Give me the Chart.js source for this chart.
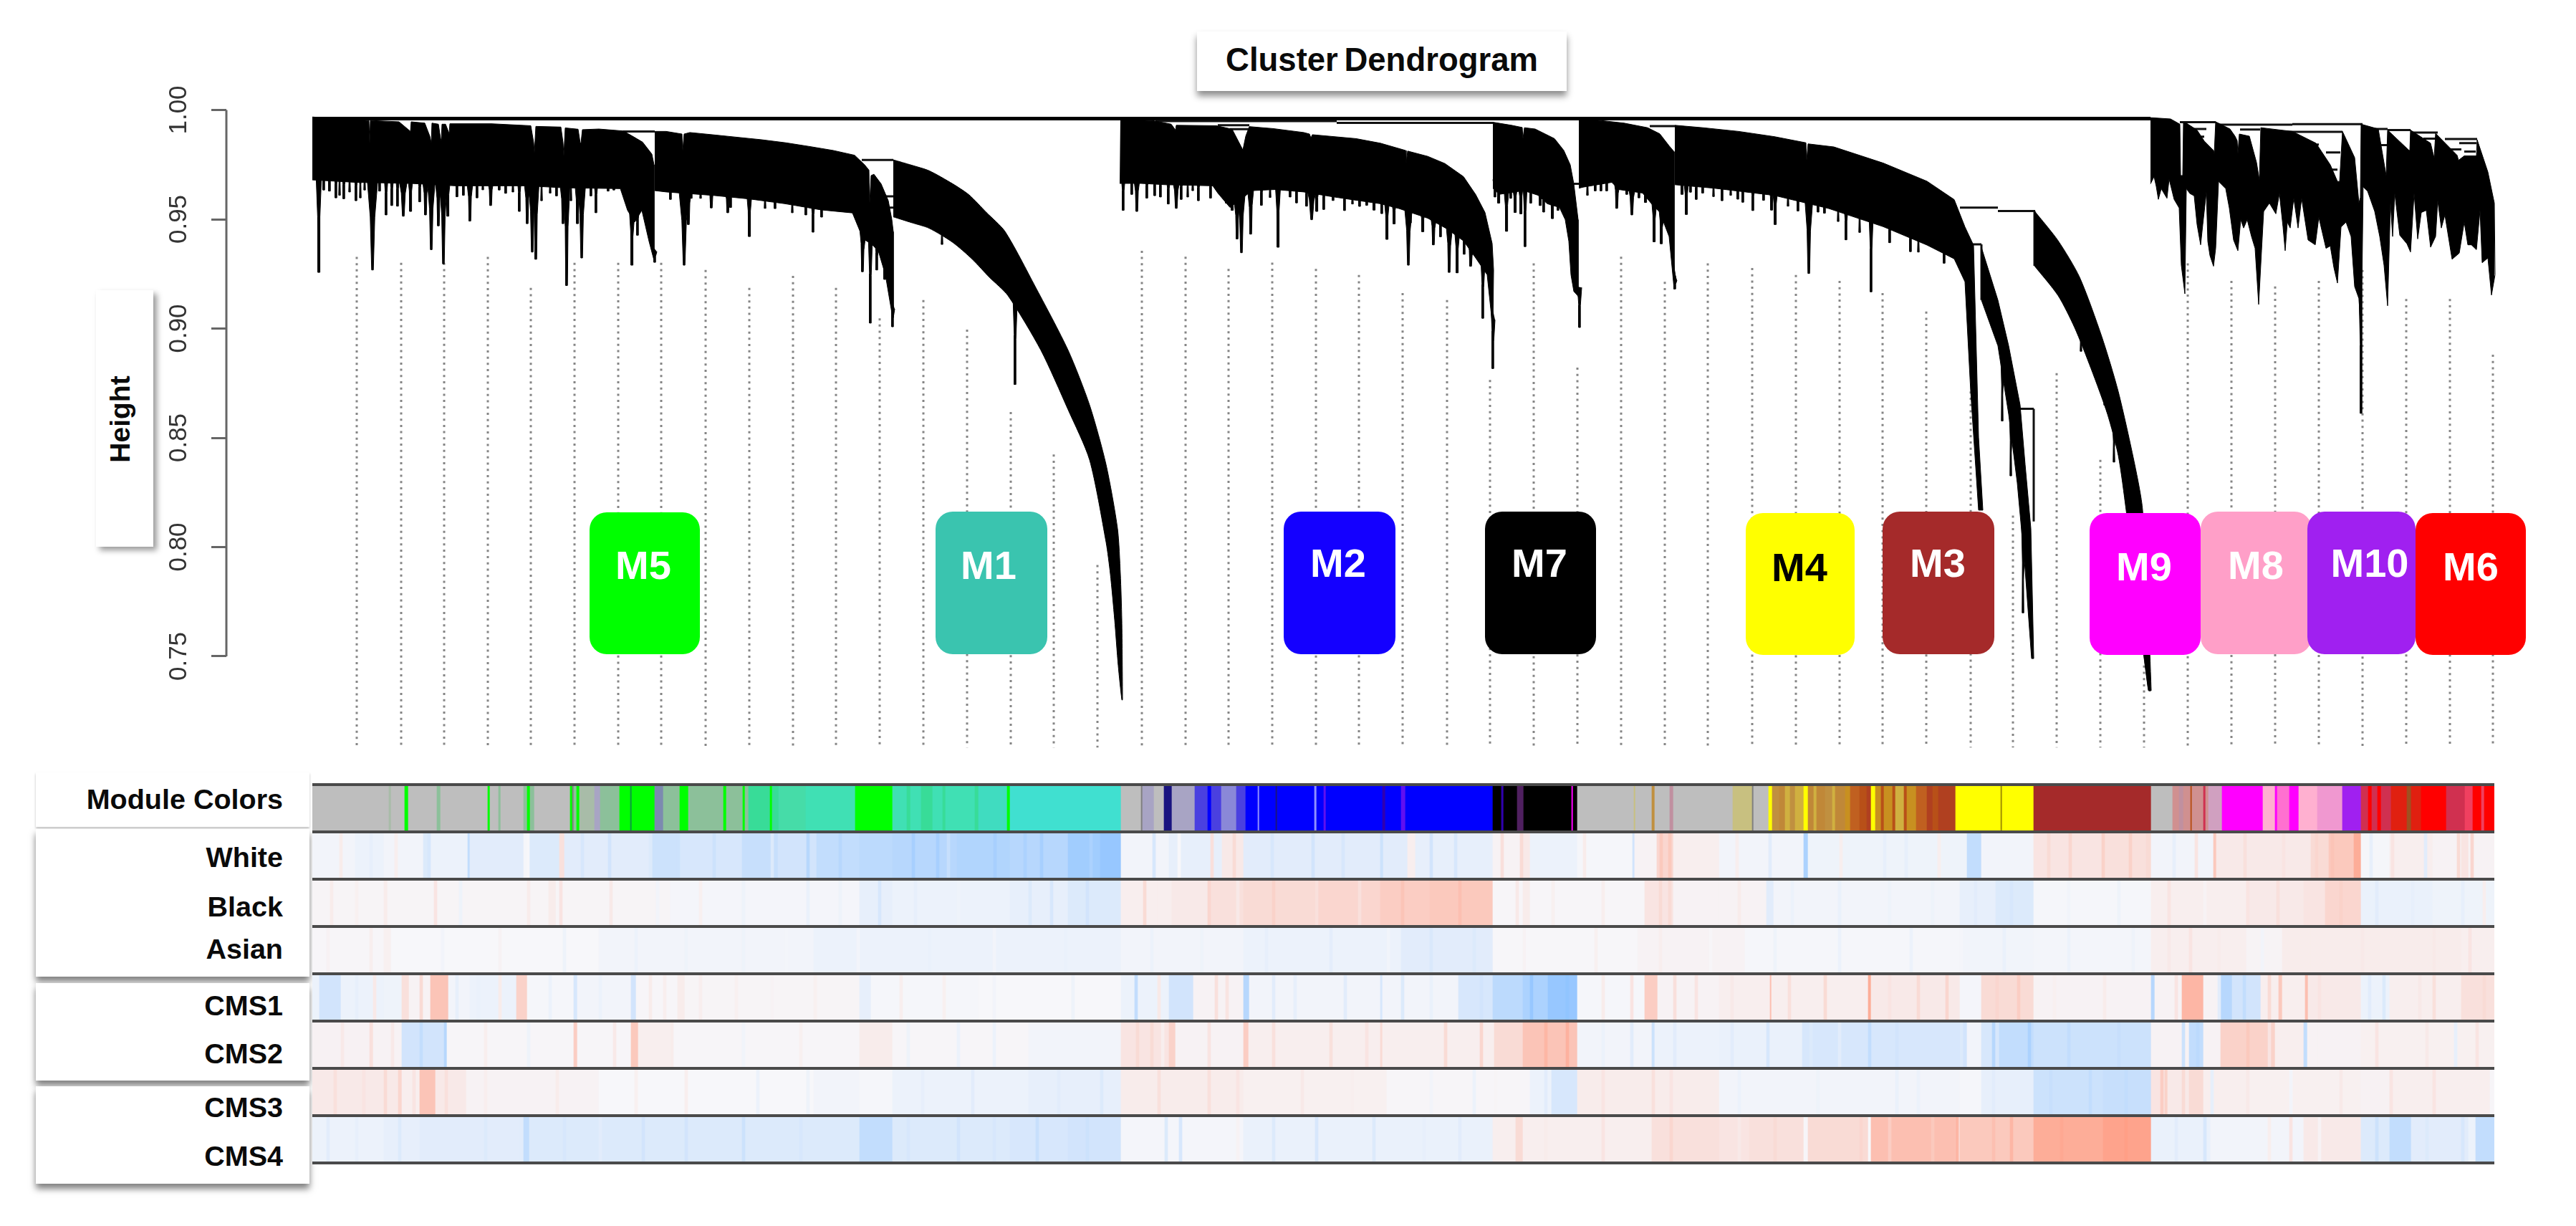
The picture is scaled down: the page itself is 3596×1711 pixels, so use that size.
<!DOCTYPE html>
<html>
<head>
<meta charset="utf-8">
<title>Cluster Dendrogram</title>
<script src="https://cdn.jsdelivr.net/npm/chart.js@4"></script>
<style>
html, body { margin: 0; background: #fff; }
#page { position: relative; width: 3596px; height: 1711px; overflow: hidden; font-family: "Liberation Sans", Arial, sans-serif; font-weight: bold; color: #0a0a0a; }
canvas { position: absolute; left: 0; top: 0; }
.panel { position: absolute; background: #fff; }
.rowLabel { position: absolute; right: 3201px; font-size: 39.5px; line-height: 44px; white-space: nowrap; }
.moduleBox { position: absolute; border-radius: 24px; }
.moduleBox span { position: absolute; font-size: 56px; line-height: 60px; white-space: nowrap; transform: translate(-50%, -50%); }
</style>
</head>
<body>
<div id="page">
  <div class="panel" style="left:1671px;top:44px;width:516px;height:83px;box-shadow:0 7px 9px rgba(0,0,0,.45)"></div>
  <div style="position:absolute;left:1671px;top:58px;width:516px;text-align:center;font-size:45.5px;line-height:52px;word-spacing:-4px">Cluster Dendrogram</div>
  <div class="panel" style="left:134px;top:405px;width:80px;height:358px;box-shadow:5px 5px 8px rgba(0,0,0,.4)"></div>
  <div style="position:absolute;left:168px;top:585px;font-size:39px;line-height:44px;transform:translate(-50%,-50%) rotate(-90deg)">Height</div>
  <div class="panel" style="left:50px;top:1078px;width:382px;height:76px;box-shadow:0 2px 3px rgba(0,0,0,.25)"></div>
  <div class="panel" style="left:50px;top:1157px;width:382px;height:206px;box-shadow:0 7px 9px rgba(0,0,0,.5)"></div>
  <div class="panel" style="left:50px;top:1372px;width:382px;height:136px;box-shadow:0 7px 9px rgba(0,0,0,.5)"></div>
  <div class="panel" style="left:50px;top:1516px;width:382px;height:136px;box-shadow:0 7px 9px rgba(0,0,0,.5)"></div>
  <div id="rowLabels"></div>
  <canvas id="heatChart" width="3596" height="1711"></canvas>
  <canvas id="dendroChart" width="3596" height="1711"></canvas>
  <div id="moduleBoxes"></div>
</div>
<script>
// x = leaf rank along the dendrogram, y = merge height

const heightTicks = [1, 0.95, 0.9, 0.85, 0.8, 0.75];
const leafCount = 3046;

const rowNames = ['Module Colors', 'White', 'Black', 'Asian', 'CMS1', 'CMS2', 'CMS3', 'CMS4'];

// each branch: upper edge, lower edge, spikes [rank, tip height, half width]
const a1Upper = [[0,.9968],[77,.9952],[79,.9952],[80,.9848],[81,.9952],[121,.9946],[137,.9902],[138,.9946],[157,.9940],[164,.9880],[166,.9850],[167,.9940],[176,.9935],[179,.9870],[180,.9860],[181,.9935],[186,.9935],[191,.9892],[192,.9937],[250,.9937],[305,.9928],[309,.9850],[310,.9805],[312,.9925],[347,.9922],[350,.9850],[351,.9790],[353,.9918],[371,.9912],[374,.9848],[375,.9848],[377,.9910],[400,.9913],[434,.9904],[447,.9880],[461,.9853],[474,.9798],[477,.9749]];
const a1Lower = [[0,.9680],[60,.9669],[137,.9664],[200,.9653],[300,.9653],[350,.9644],[430,.9640],[440,.9541],[450,.9487],[460,.9541],[470,.9399],[477,.9312]];
const a1Spikes = [[9,.9257,4],[16,.9634,3],[24,.9629,3],[33,.9598,3],[38,.9610,2],[44,.9594,3],[52,.9625,2],[61,.9585,3],[67,.9598,2],[73,.9634,2],[84,.9268,8],[94,.9629,3],[103,.9520,3],[111,.9563,3],[119,.9560,3],[127,.9514,7],[137,.9536,4],[150,.9580,3],[158,.9520,5],[166,.9361,6],[176,.9470,5],[183,.9296,6],[189,.9514,4],[202,.9603,3],[211,.9610,3],[220,.9492,5],[230,.9598,3],[238,.9635,2],[249,.9563,5],[261,.9634,3],[270,.9619,3],[280,.9625,2],[289,.9536,3],[300,.9480,5],[307,.9350,6],[312,.9317,5],[320,.9585,2],[332,.9620,2],[341,.9607,3],[350,.9480,5],[355,.9197,5],[361,.9585,2],[370,.9480,4],[376,.9323,6],[389,.9607,3],[396,.9530,3],[413,.9629,3],[421,.9634,3],[446,.9290,4],[454,.9427,3],[478,.9303,3]];

const a2Upper = [[478,.9902],[494,.9902],[516,.9890],[517,.9815],[519,.9890],[527,.9897],[561,.9886],[594,.9875],[627,.9864],[661,.9850],[694,.9833],[727,.9815],[757,.9793],[771,.9749],[777,.9725],[778,.9575],[780,.9700],[784,.9706],[794,.9662],[804,.9585],[809,.9498],[811,.9443]];
const a2Lower = [[478,.9631],[494,.9625],[560,.9609],[610,.9593],[660,.9571],[710,.9543],[754,.9529],[762,.9465],[769,.9410],[780,.9388],[790,.9356],[800,.9246],[809,.9071],[811,.9050]];
const a2Spikes = [[500,.9591,3],[519,.9290,8],[525,.9476,5],[529,.9596,3],[542,.9596,2],[557,.9552,5],[580,.9530,5],[584,.9554,3],[610,.9421,4],[632,.9550,2],[646,.9549,3],[670,.9530,2],[689,.9520,3],[699,.9441,3],[711,.9510,3],[768,.9260,5],[779,.9025,3],[788,.9268,3],[799,.9225,4],[810,.9008,3]];

const m1Upper = [[811,.9772],[836,.9748],[861,.9722],[894,.9662],[917,.9611],[941,.9531],[967,.9444],[1009,.9193],[1055,.8901],[1085,.8650],[1108,.8378],[1124,.8085],[1128,.7877],[1130,.7667],[1131,.7301]];
const m1Lower = [[811,.9511],[836,.9485],[861,.9459],[894,.9394],[921,.9318],[945,.9235],[971,.9151],[1017,.8901],[1055,.8629],[1085,.8399],[1108,.8023],[1114,.7877],[1120,.7667],[1125,.7458],[1130,.7301]];
const m1Spikes = [[879,.9385,2],[981,.8744,3]];

const m2Upper = [[1128,.9957],[1174,.9951],[1199,.9935],[1205,.9908],[1206,.9930],[1262,.9928],[1284,.9912],[1299,.9817],[1303,.9880],[1308,.9924],[1341,.9915],[1384,.9897],[1392,.9890],[1394,.9872],[1396,.9887],[1457,.9869],[1491,.9848],[1526,.9815],[1527,.9755],[1529,.9812],[1557,.9788],[1581,.9755],[1607,.9695],[1624,.9613],[1637,.9531],[1647,.9389],[1649,.9268]];
const m2Lower = [[1127,.9664],[1157,.9664],[1191,.9658],[1257,.9653],[1264,.9620],[1281,.9554],[1312,.9631],[1344,.9636],[1384,.9625],[1424,.9603],[1457,.9587],[1491,.9571],[1517,.9549],[1557,.9505],[1584,.9456],[1607,.9401],[1624,.9323],[1640,.9246],[1647,.9028],[1648,.9000]];
const m2Spikes = [[1132,.9541,3],[1144,.9614,3],[1151,.9536,5],[1165,.9597,3],[1176,.9608,3],[1184,.9602,3],[1195,.9570,3],[1206,.9550,6],[1213,.9591,3],[1222,.9602,2],[1229,.9631,2],[1237,.9585,3],[1254,.9597,3],[1276,.9574,3],[1284,.9541,4],[1291,.9410,5],[1297,.9347,6],[1310,.9432,5],[1325,.9564,3],[1337,.9600,2],[1348,.9372,4],[1365,.9602,3],[1374,.9575,3],[1388,.9560,3],[1395,.9498,8],[1402,.9536,4],[1412,.9545,3],[1425,.9586,3],[1441,.9540,3],[1452,.9570,2],[1462,.9559,3],[1472,.9564,3],[1482,.9542,4],[1493,.9526,3],[1500,.9408,4],[1510,.9479,4],[1530,.9290,6],[1533,.9483,3],[1550,.9443,4],[1565,.9383,5],[1575,.9420,3],[1587,.9257,5],[1598,.9255,4],[1608,.9340,3],[1617,.9285,5],[1634,.9047,3],[1648,.8817,3]];

const m7Upper = [[1648,.9944],[1674,.9930],[1689,.9920],[1690,.9869],[1692,.9919],[1707,.9913],[1734,.9869],[1747,.9815],[1756,.9749],[1761,.9662],[1767,.9498]];
const m7Lower = [[1648,.9642],[1657,.9614],[1691,.9631],[1711,.9610],[1724,.9571],[1741,.9554],[1749,.9498],[1754,.9399],[1757,.9246],[1761,.9170],[1767,.9148]];
const m7Spikes = [[1651,.9602,3],[1656,.9574,4],[1667,.9445,4],[1673,.9596,3],[1679,.9531,4],[1687,.9525,4],[1693,.9375,3],[1701,.9574,3],[1714,.9563,4],[1719,.9533,3],[1731,.9503,4],[1739,.9541,3],[1769,.9005,3]];

const b1Upper = [[1768,.9959],[1801,.9951],[1831,.9940],[1864,.9919],[1881,.9891],[1894,.9836],[1901,.9809]];
const b1Lower = [[1768,.9642],[1774,.9647],[1814,.9669],[1824,.9636],[1857,.9620],[1871,.9565],[1881,.9532],[1894,.9421],[1901,.9181]];
const b1Spikes = [[1780,.9610,2],[1791,.9630,3],[1799,.9630,3],[1807,.9630,3],[1821,.9550,5],[1835,.9614,3],[1842,.9520,6],[1852,.9598,3],[1861,.9577,4],[1873,.9397,4],[1883,.9388,4],[1892,.9465,3],[1899,.9334,5],[1902,.9181,3]];

const b2Upper = [[1902,.9930],[1941,.9919],[1991,.9902],[2041,.9878],[2085,.9850],[2086,.9770],[2088,.9845],[2124,.9831],[2193,.9757],[2254,.9674],[2292,.9590],[2307,.9465],[2319,.9381],[2326,.8503],[2332,.8169]];
const b2Lower = [[1902,.9658],[1957,.9642],[2041,.9609],[2117,.9549],[2193,.9466],[2254,.9382],[2292,.9319],[2307,.9214],[2315,.8712],[2326,.8169]];
const b2Spikes = [[1912,.9614,4],[1918,.9522,4],[1924,.9624,3],[1932,.9591,3],[1941,.9620,3],[1956,.9604,2],[1968,.9585,3],[1980,.9610,2],[1990,.9592,3],[1997,.9578,3],[2011,.9540,3],[2026,.9587,3],[2037,.9542,4],[2042,.9476,4],[2060,.9560,2],[2074,.9538,3],[2089,.9252,6],[2102,.9533,3],[2111,.9528,3],[2130,.9490,2],[2141,.9406,3],[2160,.9440,2],[2176,.9168,3],[2202,.9393,3],[2231,.9352,3],[2242,.9350,2],[2278,.9299,3]];

const cUpper = [[2330,.9371],[2353,.9130],[2368,.8921],[2384,.8650],[2391,.8378],[2399,.8085],[2403,.7490]];
const cLower = [[2330,.9130],[2353,.8921],[2368,.8608],[2380,.8294],[2391,.7897],[2400,.7490]];
const cSpikes = [[2359,.8577,2],[2371,.8326,2],[2388,.7699,2]];

const m9Upper = [[2404,.9538],[2437,.9402],[2467,.9235],[2498,.8963],[2521,.8712],[2544,.8378],[2555,.8169],[2567,.7344]];
const m9Lower = [[2404,.9287],[2437,.9151],[2460,.9005],[2483,.8817],[2506,.8608],[2521,.8420],[2532,.8169],[2563,.7344]];
const m9Spikes = [[2469,.8896,2],[2502,.8650,2],[2515,.8389,2]];

const dUpper = [[2566,.9965],[2594,.9959],[2607,.9935],[2608,.9700],[2611,.9700],[2612,.9940],[2616,.9940],[2631,.9908],[2641,.9858],[2654,.9815],[2655,.9800],[2657,.9946],[2677,.9913],[2684,.9880],[2687,.9860],[2688,.9800],[2690,.9890],[2704,.9880],[2714,.9760],[2718,.9680],[2720,.9919],[2764,.9902],[2797,.9848],[2817,.9749],[2827,.9673],[2830,.9673],[2834,.9902],[2851,.9782],[2857,.9574],[2859,.9600],[2860,.9935],[2884,.9913],[2895,.9700],[2897,.9908],[2927,.9815],[2928,.9815],[2929,.9908],[2957,.9848],[2962,.9780],[2964,.9893],[2994,.9793],[2996,.9770],[3004,.9790],[3021,.9790],[3022,.9864],[3037,.9716],[3046,.9574],[3047,.9246]];
const dLower = [[2566,.9662],[2571,.9695],[2574,.9651],[2577,.9591],[2581,.9640],[2589,.9596],[2592,.9684],[2599,.9591],[2606,.9552],[2609,.9290],[2614,.9159],[2616,.9640],[2621,.9618],[2627,.9607],[2631,.9476],[2636,.9383],[2639,.9476],[2644,.9624],[2646,.9399],[2649,.9334],[2654,.9285],[2657,.9367],[2661,.9673],[2671,.9640],[2676,.9552],[2682,.9405],[2688,.9356],[2692,.9498],[2696,.9460],[2701,.9498],[2707,.9421],[2712,.9367],[2717,.9110],[2721,.9356],[2724,.9536],[2732,.9574],[2741,.9525],[2746,.9618],[2751,.9465],[2754,.9356],[2757,.9487],[2761,.9460],[2766,.9596],[2772,.9460],[2777,.9596],[2786,.9405],[2791,.9394],[2796,.9383],[2801,.9509],[2811,.9367],[2817,.9378],[2822,.9279],[2827,.9208],[2832,.9465],[2839,.9487],[2846,.9421],[2851,.9192],[2857,.9137],[2859,.9028],[2862,.9651],[2869,.9629],[2879,.9536],[2886,.9421],[2892,.9290],[2897,.9104],[2901,.9574],[2904,.9421],[2907,.9618],[2914,.9427],[2924,.9388],[2929,.9350],[2934,.9618],[2939,.9410],[2944,.9531],[2951,.9541],[2957,.9372],[2964,.9421],[2967,.9585],[2972,.9460],[2977,.9520],[2987,.9317],[2997,.9345],[3004,.9487],[3009,.9383],[3014,.9383],[3021,.9361],[3026,.9541],[3029,.9301],[3037,.9323],[3042,.9153],[3047,.9246]];
const dSpikes = [[2860,.8612,3]];

// horizontal merges [from rank, to rank, height] and vertical stems [rank, upper, lower]
const trunk = [0, 2566, .9961];
const merges = [[434,478,.9902],[767,811,.9771],[799,811,.9605],[805,811,.9553],[1177,1430,.9949],[1430,1648,.9941],[1264,1308,.9930],[1281,1307,.9912],[1761,1771,.9662],[1867,1902,.9926],[2300,2353,.9553],[2353,2405,.9538],[2315,2330,.9385],[2384,2403,.8633],[2607,2657,.9944],[2657,2764,.9933],[2764,2862,.9935],[2614,2644,.9913],[2631,2641,.9878],[2691,2719,.9911],[2721,2834,.9900],[2784,2801,.9842],[2811,2831,.9806],[2817,2827,.9727],[2862,2897,.9913],[2888,2897,.9839],[2897,2929,.9908],[2931,2967,.9897],[2947,2964,.9869],[2977,3022,.9867],[2997,3021,.9848],[2984,3000,.9820],[3004,3020,.9810]];
const stems = [[2403,.8633,.8117],[2404,.9538,.9287],[2330,.9385,.9130],[2315,.9385,.9000]];

// guide lines below the tree
const guideRanks = [62,124,184,245,305,366,427,487,549,610,671,731,792,853,914,975,1035,1096,1158,1219,1279,1340,1401,1461,1522,1584,1644,1705,1766,1827,1888,1948,2010,2071,2132,2192,2253,2315,2374,2435,2496,2557,2618,2679,2740,2801,2862,2923,2984,3044];
const guideTops = [.9328,.9301,.9301,.9328,.9186,.9301,.9301,.9301,.9268,.9186,.9241,.9186,.9047,.9130,.8995,.8618,.8424,.7918,.9356,.9329,.9273,.9302,.9273,.9245,.9162,.9130,.8765,.9298,.8821,.9329,.9214,.9298,.9277,.9245,.9218,.9162,.9078,.8712,.8144,.8796,.8399,.7458,.9298,.9218,.9193,.9218,.9268,.9135,.9135,.8880];
const guideBottom = .7083;

// colour strip: [start rank, module colour]
const moduleBands = [[0,'grey'],[107,'greyGreen'],[110,'grey'],[129,'green'],[134,'grey'],[174,'greenGrey'],[179,'grey'],[245,'green'],[248,'grey'],[260,'greenGrey'],[263,'grey'],[295,'greenGrey'],[300,'green'],[304,'greenGrey'],[310,'grey'],[360,'green'],[363,'greyDark'],[365,'greenGrey'],[369,'green'],[373,'greyGreen'],[394,'lilacGrey'],[402,'greenGrey'],[429,'green'],[444,'greenDark'],[446,'green'],[478,'slate'],[490,'greenGrey'],[513,'green'],[525,'greenGrey'],[574,'green'],[578,'greenGrey'],[601,'green'],[604,'greenGrey'],[609,'seaMix'],[639,'green'],[642,'seaMix'],[651,'sea'],[689,'seaLight'],[758,'green'],[810,'seaLight'],[830,'seaMix'],[835,'seaLight'],[850,'seaMix'],[866,'seaLight'],[880,'seaMix'],[884,'seaLight'],[925,'seaMix'],[930,'turqMix'],[970,'green'],[974,'turquoise'],[1129,'grey'],[1157,'greyDark'],[1159,'lilacGrey'],[1175,'grey'],[1189,'navy'],[1200,'lilacGrey'],[1232,'blueMix'],[1250,'blue'],[1255,'blueMix'],[1269,'lilacBlue'],[1290,'blueMix'],[1303,'blue'],[1320,'paleBlue'],[1322,'blue'],[1345,'navy'],[1347,'blue'],[1399,'paleBlue'],[1402,'blue'],[1412,'violet'],[1415,'blue'],[1494,'deepViolet'],[1498,'blue'],[1520,'violet'],[1526,'blue'],[1648,'black'],[1660,'deepViolet'],[1663,'black'],[1682,'plum'],[1691,'black'],[1758,'magenta'],[1760,'black'],[1766,'grey'],[1845,'khaki'],[1847,'grey'],[1870,'tan'],[1874,'grey'],[1895,'rosy'],[1900,'grey'],[1983,'khaki'],[2010,'greyDark'],[2012,'grey'],[2033,'yellow'],[2038,'tan'],[2048,'ochre'],[2056,'mustard'],[2063,'tan'],[2070,'mustard'],[2082,'yellow'],[2088,'ochre'],[2096,'mustard'],[2100,'ochre'],[2112,'tan'],[2122,'mustard'],[2126,'ochre'],[2140,'gold'],[2147,'orange'],[2160,'rust'],[2170,'rustDark'],[2176,'yellow'],[2182,'gold'],[2190,'rust'],[2194,'gold'],[2206,'rust'],[2210,'mustard'],[2222,'rust'],[2226,'gold'],[2239,'orange'],[2254,'rustDark'],[2262,'rust'],[2270,'rustDark'],[2294,'yellow'],[2357,'olive'],[2359,'yellow'],[2403,'brown'],[2567,'grey'],[2597,'rosyGrey'],[2606,'rosy'],[2612,'rosyGrey'],[2622,'rust'],[2624,'rosyGrey'],[2640,'crimson'],[2643,'rosyGrey'],[2647,'lilacPink'],[2666,'magenta'],[2723,'lightPink'],[2740,'magenta'],[2743,'hotPink'],[2760,'magenta'],[2773,'lightPink'],[2799,'orchid'],[2834,'purple'],[2860,'crimson'],[2870,'red'],[2875,'crimson'],[2883,'red'],[2888,'crimson'],[2902,'redDark'],[2924,'mossRed'],[2930,'redDark'],[2944,'red'],[2979,'crimson'],[3005,'redPale'],[3016,'red'],[3028,'redPale'],[3032,'red']];
const moduleShades = { grey:'#bebebe', greyGreen:'#a8bca8', greenGrey:'#8cc09a', greenDark:'#0a9a40', green:'#00ff00', slate:'#7c8ab0', lilacGrey:'#a8a4c4', seaMix:'#38dc98', sea:'#46dca8', seaLight:'#40e0b4', turqMix:'#40dcc0', turquoise:'#40e0d0', greyDark:'#808080', navy:'#1a1480', blueMix:'#4a40e0', lilacBlue:'#8a88d8', blue:'#0000ff', paleBlue:'#9090ff', violet:'#6010f0', deepViolet:'#3000b0', black:'#000000', plum:'#502060', magenta:'#ff00ff', khaki:'#c8c080', tan:'#c09040', rosy:'#c090a0', yellow:'#ffff00', ochre:'#c08838', mustard:'#d0b040', orange:'#c06020', rust:'#b85018', gold:'#c89020', rustDark:'#b04020', olive:'#a09000', brown:'#a52a2a', rosyGrey:'#d09090', lilacPink:'#d0a0c0', hotPink:'#ff70d0', lightPink:'#ffb0d0', orchid:'#f098d0', purple:'#a020f0', crimson:'#d03050', red:'#ff0000', redDark:'#e02010', mossRed:'#a05020', redPale:'#f04060' };

// trait correlation per stretch of leaves: [start rank, value -1..1]
const rowWhite = [[0,-.05],[60,-.1],[100,-.05],[155,-.25],[162,-.1],[217,-.5],[220,-.2],[295,-.02],[300,-.25],[345,.25],[352,-.2],[470,-.25],[475,-.4],[513,-.3],[600,-.45],[650,-.35],[704,-.5],[764,-.55],[810,-.6],[900,-.65],[974,-.6],[1055,-.8],[1100,-.9],[1129,-.05],[1196,-.15],[1270,.15],[1300,-.2],[1491,-.4],[1495,-.2],[1529,.1],[1540,-.15],[1648,.05],[1690,.15],[1700,-.1],[1766,-.02],[1843,-.35],[1846,.05],[1877,.35],[1900,.1],[1964,-.05],[2082,-.7],[2088,-.08],[2310,-.5],[2330,-.05],[2403,.2],[2500,.25],[2560,.3],[2567,-.05],[2654,.5],[2658,.15],[2790,.3],[2815,.5],[2850,.8],[2860,-.02],[2900,.1],[2960,.05],[3000,.2],[3010,.05]];
const rowBlack = [[0,.03],[100,.12],[105,.03],[330,.12],[340,.03],[500,-.03],[764,-.15],[810,-.1],[974,-.15],[1055,-.25],[1129,.1],[1200,.15],[1252,.25],[1300,.3],[1400,.35],[1491,.45],[1560,.5],[1648,.02],[1690,.12],[1700,.02],[1860,.2],[1900,.05],[1964,.05],[2030,-.2],[2040,-.05],[2300,-.15],[2350,-.25],[2403,-.02],[2567,.1],[2700,.15],[2780,.2],[2810,.35],[2860,-.12],[2960,-.08]];
const rowAsian = [[0,.02],[100,.08],[110,0],[400,-.05],[700,-.1],[1129,-.05],[1300,-.1],[1520,-.2],[1648,.01],[1850,.05],[2000,-.02],[2300,-.06],[2403,-.04],[2567,.1],[2700,.04],[2750,.12],[3000,.1]];
const rowCms1 = [[0,-.1],[10,-.35],[40,-.1],[100,-.08],[125,.25],[135,.05],[165,.55],[190,-.05],[220,-.1],[285,.4],[300,-.02],[365,-.3],[370,-.05],[445,-.35],[452,.02],[510,.12],[520,.03],[764,-.15],[780,-.02],[930,0],[1129,-.1],[1196,-.35],[1230,.05],[1300,-.6],[1308,-.05],[1491,-.3],[1494,-.05],[1600,-.3],[1648,-.55],[1690,-.7],[1725,-.9],[1766,-.02],[1860,.45],[1878,.05],[1964,.1],[2035,.6],[2037,.1],[2172,.8],[2176,.15],[2300,-.03],[2330,.3],[2403,.05],[2567,-.6],[2572,.05],[2610,.7],[2640,.05],[2664,-.6],[2680,-.35],[2720,.1],[2745,.5],[2750,.1],[2782,.6],[2786,.15],[2860,-.1],[2900,.1],[3000,.25]];
const rowCms2 = [[0,.06],[80,.25],[85,.05],[125,-.35],[184,-.6],[188,.02],[365,.45],[370,.02],[445,.5],[455,.1],[500,.02],[764,.12],[810,.02],[1000,-.05],[1129,.2],[1196,.4],[1205,.05],[1300,.45],[1307,.1],[1491,.3],[1494,.1],[1650,.3],[1690,.55],[1766,-.05],[1870,-.4],[1874,-.1],[1964,-.12],[2080,-.3],[2300,-.35],[2310,-.05],[2330,-.3],[2355,-.5],[2403,-.4],[2567,.05],[2620,-.5],[2640,.05],[2664,.4],[2740,.1],[2780,-.5],[2785,.05],[2860,.08]];
const rowCms3 = [[0,.15],[120,.35],[125,.1],[150,.55],[172,.15],[215,.05],[400,0],[700,-.05],[764,-.02],[810,-.1],[1000,-.15],[1129,.12],[1300,.08],[1500,.02],[1700,-.1],[1730,-.3],[1766,.12],[1964,-.05],[2300,-.02],[2330,-.15],[2403,-.4],[2500,-.45],[2567,.2],[2586,.4],[2590,.15],[2620,.3],[2640,.1],[2700,.08],[2860,.06],[2900,.1],[3040,.02]];
const rowCms4 = [[0,-.1],[100,-.15],[150,-.2],[290,-.2],[295,-.5],[303,-.25],[764,-.5],[810,-.25],[974,-.3],[1055,-.35],[1129,-.03],[1300,-.12],[1648,.1],[1680,.3],[1690,.1],[1870,.25],[1964,.2],[2006,.25],[2082,.02],[2088,.3],[2172,0],[2176,.6],[2294,.25],[2300,.5],[2403,.8],[2500,.9],[2567,-.12],[2650,-.05],[2780,.15],[2860,-.25],[2900,-.5],[2930,-.2],[3010,-.1],[3020,-.5]];

// thin leaf streaks on top of the stretches above: [rank, value]
const fineWhite = [[38,.12],[80,-.15],[115,.1],[161,-.3],[299,0],[375,-.3],[413,-.35],[509,-.4],[559,-.4],[640,-.25],[690,-.6],[735,-.6],[837,-.75],[871,-.75],[886,-.45],[951,-.75],[993,-.7],[1016,-.75],[1085,-.7],[1173,-.3],[1208,0],[1254,.25],[1285,.3],[1338,-.3],[1395,-.35],[1437,-.3],[1560,-.35],[1594,-.3],[1659,.25],[1686,.3],[1774,.12],[1881,.5],[1893,.5],[1987,.1],[2033,-.2],[2132,.1],[2193,-.15],[2223,-.15],[2269,.1],[2422,.3],[2452,.35],[2498,.4],[2536,.4],[2597,-.15],[2628,.2],[2696,.25],[2750,.2],[2796,.35],[2818,.55],[2872,-.15],[2902,.2],[2948,-.2],[2994,.3],[3013,.35]];
const fineBlack = [[25,.12],[60,.08],[170,.2],[205,-.08],[300,.12],[345,.2],[415,.15],[480,-.05],[540,.08],[600,-.08],[690,-.12],[735,-.08],[790,-.3],[840,-.15],[900,-.08],[1000,-.25],[1030,-.3],[1080,-.35],[1160,.3],[1180,.1],[1250,.35],[1290,.15],[1340,.4],[1400,.25],[1460,.25],[1520,.55],[1600,.6],[1680,.15],[1730,.08],[1800,.1],[1880,.3],[1893,.3],[1990,.12],[2033,-.2],[2064,-.1],[2130,-.12],[2200,-.08],[2260,-.08],[2320,-.2],[2370,-.3],[2450,-.06],[2520,-.08],[2590,.2],[2640,.05],[2700,.2],[2742,.25],[2830,.4],[2880,-.2],[2930,-.15],[3000,-.15],[3030,.1]];
const fineAsian = [[20,.06],[80,.1],[180,-.05],[260,.05],[350,-.08],[450,-.1],[520,-.08],[600,-.08],[660,-.04],[760,-.05],[860,-.12],[950,-.05],[1050,-.12],[1170,-.1],[1240,-.08],[1330,-.15],[1420,-.18],[1500,-.06],[1560,-.28],[1620,-.25],[1690,.05],[1790,.08],[1880,.1],[1950,.02],[2040,-.08],[2130,-.1],[2230,-.1],[2300,-.03],[2360,-.12],[2450,-.1],[2540,-.08],[2590,.15],[2620,.2],[2660,.12],[2720,-.05],[2790,.12],[2860,.15],[2960,.15],[3010,.2]];
const fineCms1 = [[60,-.15],[85,.15],[150,.3],[200,-.15],[230,-.12],[260,.12],[330,-.1],[400,-.1],[470,.12],[490,.1],[540,.1],[590,.08],[640,.05],[700,.08],[820,.1],[880,.08],[950,-.05],[1060,-.08],[1148,-.5],[1180,.15],[1260,.25],[1275,.2],[1340,-.2],[1370,-.15],[1440,-.2],[1520,-.25],[1560,-.12],[1630,-.35],[1700,-.9],[1750,-.95],[1800,.12],[1840,.2],[1900,.25],[1930,.2],[1980,.15],[2060,.25],[2110,.3],[2200,.2],[2240,.3],[2280,.35],[2350,.35],[2380,.45],[2430,.08],[2500,.12],[2600,.2],[2660,-.2],[2695,-.5],[2730,.3],[2800,.2],[2870,-.2],[2890,-.25],[2940,.15],[2960,.25],[3030,.3]];
const fineCms2 = [[40,.15],[110,.15],[150,-.5],[240,.1],[300,-.08],[420,.15],[500,.12],[600,-.06],[680,.08],[830,-.08],[900,-.1],[950,-.1],[1150,.3],[1170,.3],[1185,.1],[1250,.2],[1340,.25],[1420,.25],[1470,.2],[1580,.3],[1630,.35],[1720,.7],[1750,.75],[1800,-.1],[1840,-.2],[1900,-.2],[1980,-.2],[2030,-.3],[2090,-.25],[2130,-.2],[2172,-.5],[2210,-.35],[2260,-.3],[2300,-.25],[2345,-.6],[2395,-.7],[2450,-.5],[2520,-.45],[2610,-.4],[2630,-.55],[2700,.5],[2730,.2],[2760,.1],[2800,.05],[2880,.2],[2950,.15],[2990,-.15],[3020,.2]];
const fineCms3 = [[30,.25],[70,.2],[100,.3],[140,.2],[185,.25],[240,.1],[340,.12],[450,.08],[520,.1],[620,-.1],[690,-.08],[850,-.15],[920,-.2],[1040,-.2],[1100,-.25],[1180,.25],[1250,.25],[1290,.2],[1380,.15],[1450,.1],[1560,-.05],[1620,-.1],[1650,.03],[1720,-.2],[1800,.2],[1870,.25],[1895,.2],[1990,-.1],[2100,-.08],[2210,-.12],[2240,-.1],[2345,-.2],[2425,-.45],[2480,-.5],[2530,-.5],[2580,.45],[2610,.3],[2650,-.15],[2700,.15],[2760,-.05],[2830,.15],[2900,.2],[2960,.2],[3000,.1]];
const fineCms4 = [[20,-.2],[60,-.15],[120,-.25],[180,-.2],[240,-.25],[350,-.3],[400,-.2],[460,-.35],[520,-.35],[600,-.4],[680,-.3],[830,-.3],[900,-.35],[950,-.3],[1010,-.45],[1080,-.4],[1190,-.25],[1210,-.3],[1290,.05],[1340,-.25],[1400,-.3],[1480,-.25],[1550,-.15],[1600,-.2],[1720,.12],[1800,.2],[1895,.35],[1990,.15],[2040,.3],[2120,.3],[2160,.35],[2200,.45],[2260,.5],[2294,.7],[2345,.6],[2370,.7],[2440,.85],[2530,.95],[2600,-.2],[2640,-.3],[2730,.1],[2760,.2],[2800,.05],[2880,-.4],[2950,-.25],[3000,-.3]];

// label placement and box colours for the module tags, page pixels
const tagNames = ['M5','M1','M2','M7','M4','M3','M9','M8','M10','M6'];
const tagLayout = [[823,977,715,913,898,789,'#00ff00','#fff'],[1306,1462,714,913,1380,789,'#3ac4af','#fff'],[1792,1948,714,913,1868,786,'#1400ff','#fff'],[2073,2228,714,913,2149,786,'#000','#fff'],[2437,2589,716,914,2512,792,'#ffff00','#000'],[2628,2784,714,913,2705,786,'#a52a2a','#fff'],[2917,3072,716,914,2993,791,'#ff00ff','#fff'],[3072,3227,714,913,3149,789,'#ff9fc8','#fff'],[3221,3372,714,913,3308,786,'#a020f0','#fff'],[3372,3526,716,914,3449,791,'#ff0000','#fff']];
const rowLabelY = [1115,1196,1265,1324,1403,1470,1545,1613];

function lerpEdge(edge, x) {
    if (x <= edge[0][0]) return edge[0][1];
    for (let i = 1; i < edge.length; i++) {
        if (x <= edge[i][0]) {
            const t = (x - edge[i - 1][0]) / ((edge[i][0] - edge[i - 1][0]) || 1);
            return edge[i - 1][1] + t * (edge[i][1] - edge[i - 1][1]);
        }
    }
    return edge[edge.length - 1][1];
}

function branchOutline(upper, lower) {
    return upper.concat(lower.slice().reverse()).map(p => ({ x: p[0], y: p[1] }));
}

// concave sliver hanging from the lower edge; y:null closes it
function spikeOutline(lower, spikes) {
    const pts = [];
    spikes.forEach(s => {
        const w = s[2];
        const baseL = lerpEdge(lower, s[0] - w) + 0.004;
        const baseR = lerpEdge(lower, s[0] + w) + 0.004;
        pts.push({ x: s[0] - w, y: baseL });
        pts.push({ x: s[0] - w * 0.4, y: baseL - (baseL - s[1]) * 0.45 });
        pts.push({ x: s[0] - 1.2, y: s[1] });
        pts.push({ x: s[0] + 1.2, y: s[1] });
        pts.push({ x: s[0] + w * 0.4, y: baseR - (baseR - s[1]) * 0.45 });
        pts.push({ x: s[0] + w, y: baseR });
        pts.push({ x: s[0], y: null });
    });
    return pts;
}

function solid(data, tension) {
    return { data, fill: 'shape', backgroundColor: '#000', borderColor: '#000', borderWidth: 1, pointRadius: 0, tension: tension || 0, clip: false };
}

function traitColor(v) {
    const from = [247, 247, 250];
    const to = v < 0 ? [140, 194, 255] : [255, 154, 128];
    const t = Math.abs(v);
    const c = from.map((f, i) => Math.round(f + (to[i] - f) * t));
    return `rgb(${c[0]},${c[1]},${c[2]})`;
}

function cellsFor(name, bands, toColor) {
    return {
        data: bands.map((b, i) => ({ x: [b[0], i + 1 < bands.length ? bands[i + 1][0] : leafCount], y: name })),
        backgroundColor: bands.map(b => toColor(b[1])),
        barPercentage: 1,
        categoryPercentage: 1,
        grouped: false,
        borderWidth: 0,
    };
}

function streaksFor(name, fine) {
    return {
        data: fine.map(f => ({ x: [f[0], f[0] + 4], y: name })),
        backgroundColor: fine.map(f => traitColor(f[1])),
        barPercentage: 1,
        categoryPercentage: 1,
        grouped: false,
        borderWidth: 0,
    };
}

function renderLabels() {
    const wrap = document.getElementById('rowLabels');
    wrap.innerHTML = rowNames.map((n, i) =>
        `<div class="rowLabel" style="top:${rowLabelY[i] - 22}px">${n}</div>`).join('');
    const boxes = document.getElementById('moduleBoxes');
    boxes.innerHTML = tagNames.map((n, i) => {
        const [l, r, t, b, tx, ty, bg, fg] = tagLayout[i];
        return `<div class="moduleBox" style="left:${l}px;top:${t}px;width:${r - l}px;height:${b - t}px;background:${bg}">` +
            `<span style="left:${tx - l}px;top:${ty - t}px;color:${fg}">${n}</span></div>`;
    }).join('');
}

function renderHeat() {
    // chart.js paints the first dataset last, so streaks go in before their row
    const bands = [cellsFor('Module Colors', moduleBands, k => moduleShades[k])];
    const rows = [rowWhite, rowBlack, rowAsian, rowCms1, rowCms2, rowCms3, rowCms4];
    const fines = [fineWhite, fineBlack, fineAsian, fineCms1, fineCms2, fineCms3, fineCms4];
    rows.forEach((r, i) => {
        bands.push(streaksFor(rowNames[i + 1], fines[i]));
        bands.push(cellsFor(rowNames[i + 1], r, traitColor));
    });
    new Chart(document.getElementById('heatChart').getContext('2d'), {
        type: 'bar',
        data: { labels: rowNames, datasets: bands },
        options: {
            indexAxis: 'y',
            responsive: false,
            animation: false,
            devicePixelRatio: 1,
            layout: { padding: { left: 436, top: 1095, right: 114, bottom: 88.5 } },
            plugins: { legend: { display: false }, tooltip: { enabled: false } },
            scales: {
                x: { type: 'linear', display: false, min: 0, max: leafCount },
                y: {
                    type: 'category',
                    offset: true,
                    border: { display: false },
                    ticks: { display: false },
                    grid: { offset: true, color: '#4a4a4a', lineWidth: 4, drawTicks: false, z: 1 },
                },
            },
        },
    });
}

function renderDendro() {
    const branches = [[a1Upper, a1Lower, a1Spikes], [a2Upper, a2Lower, a2Spikes], [m1Upper, m1Lower, m1Spikes], [m2Upper, m2Lower, m2Spikes], [m7Upper, m7Lower, m7Spikes], [b1Upper, b1Lower, b1Spikes], [b2Upper, b2Lower, b2Spikes], [cUpper, cLower, cSpikes], [m9Upper, m9Lower, m9Spikes], [dUpper, dLower, dSpikes]];
    const datasets = [];

    branches.forEach(b => {
        datasets.push(solid(branchOutline(b[0], b[1]), b[0] === m1Upper || b[0] === m9Upper ? 0.25 : 0));
        datasets.push(solid(spikeOutline(b[1], b[2])));
    });

    const links = [];
    merges.forEach(m => links.push({ x: m[0], y: m[2] }, { x: m[1], y: m[2] }, { x: m[1], y: null }));
    stems.forEach(s => links.push({ x: s[0], y: s[1] }, { x: s[0], y: s[2] }, { x: s[0], y: null }));
    datasets.push({ data: links, borderColor: '#111', borderWidth: 3, pointRadius: 0, fill: false });
    datasets.push({ data: [{ x: trunk[0], y: trunk[2] }, { x: trunk[1], y: trunk[2] }], borderColor: '#000', borderWidth: 5, pointRadius: 0, fill: false });

    // the drawn axis only runs between the first and last tick
    datasets.push({
        data: [{ x: -120, y: heightTicks[0] }, { x: -120, y: heightTicks[heightTicks.length - 1] }],
        borderColor: '#666', borderWidth: 3, pointRadius: 0, fill: false, clip: false,
    });

    // guides sit behind the tree, so last in the list
    const guides = [];
    guideRanks.forEach((x, i) => {
        guides.push({ x, y: guideTops[i] }, { x, y: guideBottom }, { x, y: null });
    });
    datasets.push({ data: guides, borderColor: '#858585', borderWidth: 3, borderDash: [3, 5.7], pointRadius: 0, fill: false });

    new Chart(document.getElementById('dendroChart').getContext('2d'), {
        type: 'line',
        data: { datasets },
        options: {
            responsive: false,
            animation: false,
            devicePixelRatio: 1,
            layout: { padding: { left: 0, top: 153.5, right: 114, bottom: 642.5 } },
            plugins: { legend: { display: false }, tooltip: { enabled: false } },
            scales: {
                x: { type: 'linear', display: false, min: -120, max: leafCount },
                y: {
                    type: 'linear',
                    min: 0.7,
                    max: 1,
                    afterBuildTicks: s => { s.ticks = heightTicks.map(value => ({ value })); },
                    afterFit: s => { s.width = 316; },
                    border: { display: false },
                    grid: { drawOnChartArea: false, color: '#666', lineWidth: 3, tickLength: 21 },
                    ticks: {
                        minRotation: 90,
                        maxRotation: 90,
                        crossAlign: 'center',
                        padding: 11,
                        autoSkip: false,
                        color: '#333',
                        font: { family: '"Liberation Sans", Arial, sans-serif', size: 35 },
                        callback: v => Number(v).toFixed(2),
                    },
                },
            },
        },
    });
}

renderLabels();
renderHeat();
renderDendro();
</script>
</body>
</html>
